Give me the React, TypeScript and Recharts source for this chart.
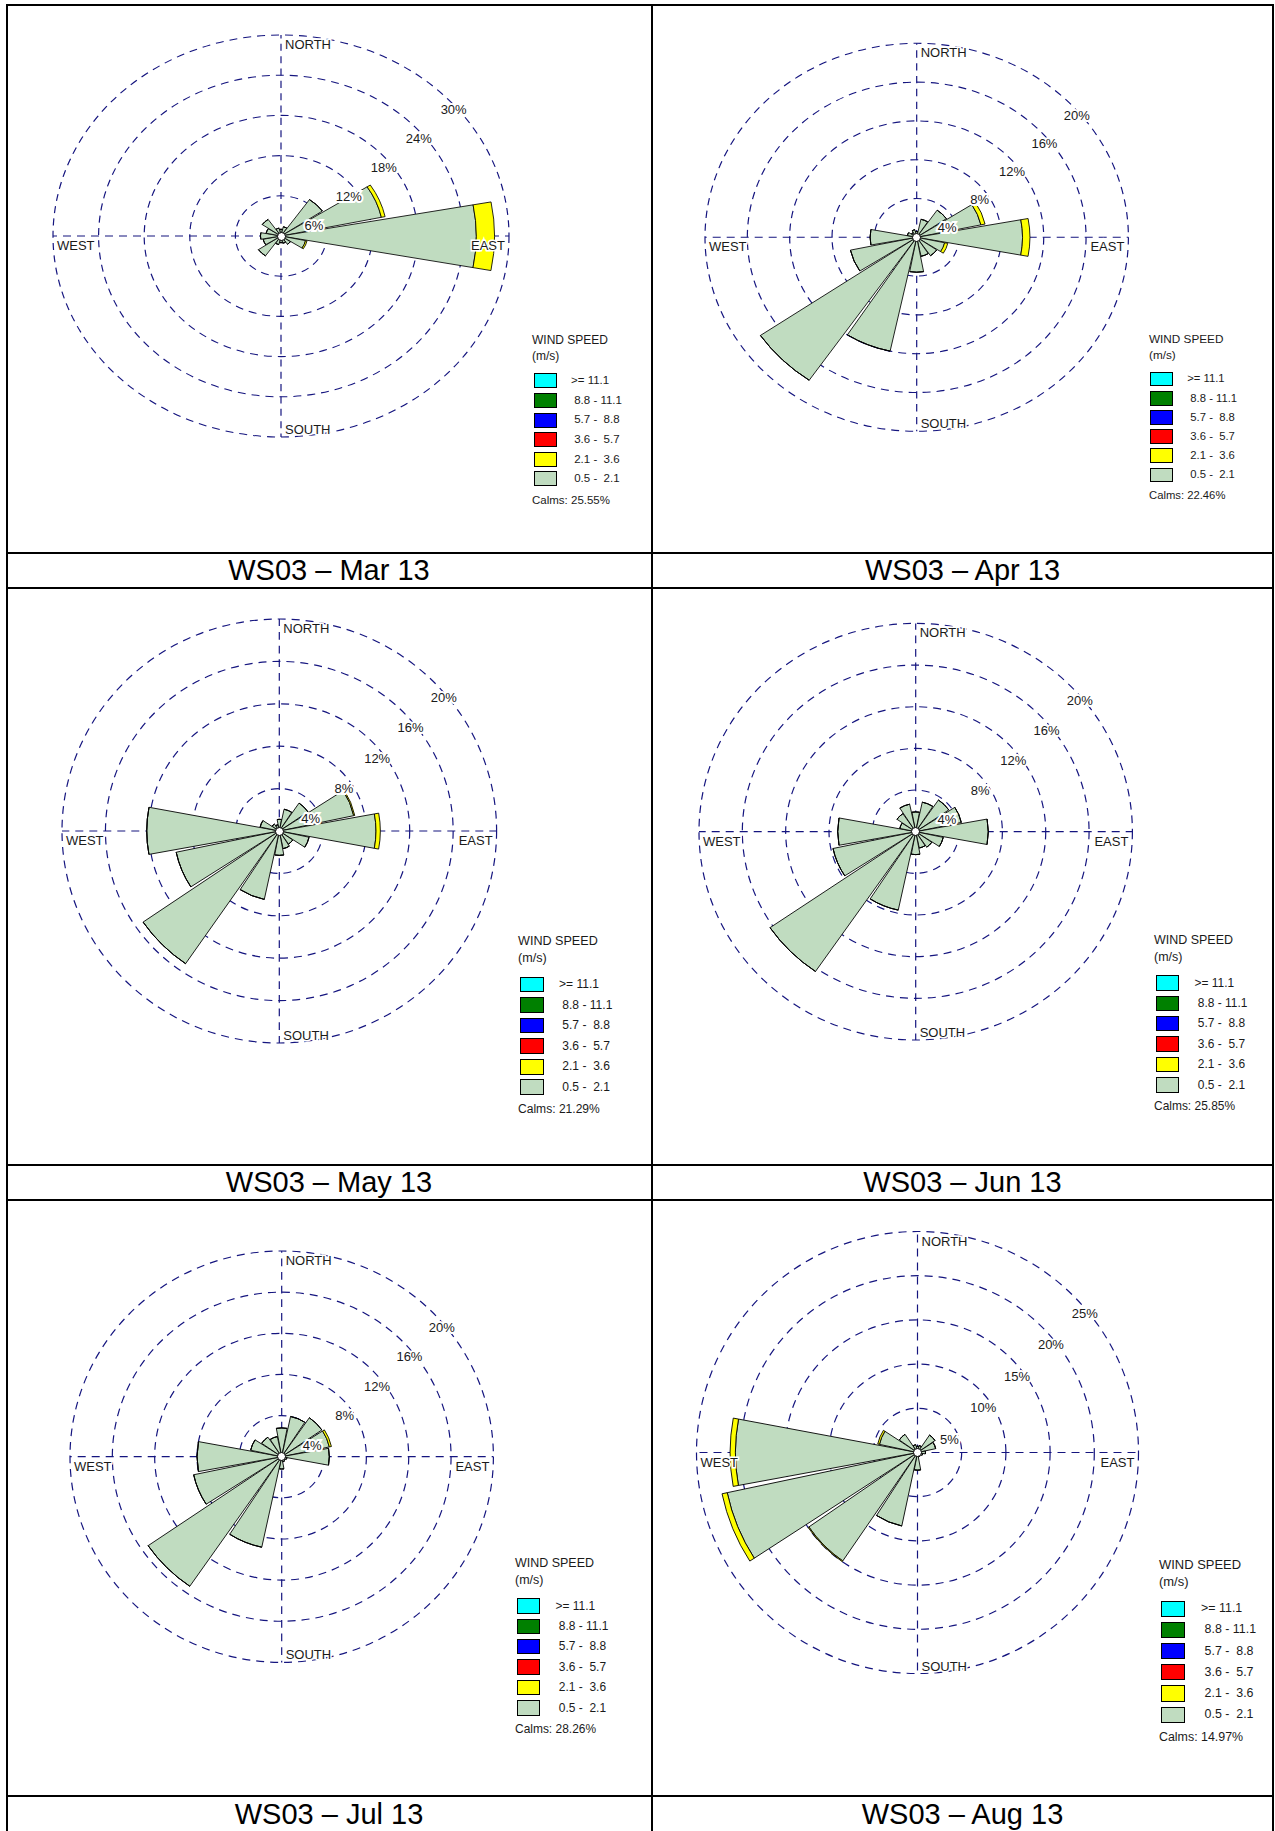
import React from "react";
import {
  RadialBarChart,
  RadialBar,
  PolarGrid,
  PolarAngleAxis,
  PolarRadiusAxis,
  Legend,
} from "recharts";

const FONT = "'Liberation Sans', Arial, Helvetica, sans-serif";

const directions = ["N", "NNE", "NE", "ENE", "E", "ESE", "SE", "SSE", "S", "SSW", "SW", "WSW", "W", "WNW", "NW", "NNW"];
const compassDirs = ["N", "E", "S", "W"];
const compassLabels = ["NORTH", "EAST", "SOUTH", "WEST"];

// frequency (%) per direction: 0.5 - 2.1 m/s (low) and 2.1 - 3.6 m/s (mid)
const marLow = [1.0, 1.4, 6.6, 13.5, 25.7, 3.3, 1.5, 1.1, 1.0, 1.3, 3.6, 2.4, 2.7, 2.0, 3.0, 1.2];
const marMid = [0, 0, 0, 0.5, 2.4, 0.2, 0, 0, 0, 0, 0, 0, 0, 0, 0, 0];
const aprLow = [0.6, 1.9, 3.4, 6.2, 10.0, 2.7, 2.3, 2.0, 3.6, 12.0, 17.9, 6.4, 4.4, 0.9, 0.6, 0.8];
const aprMid = [0, 0, 0, 0.4, 0.7, 0.3, 0, 0, 0, 0, 0, 0, 0, 0, 0, 0];
const mayLow = [1.1, 2.1, 3.2, 7.0, 8.9, 2.8, 1.5, 1.7, 2.3, 6.6, 15.2, 9.7, 12.2, 1.8, 0.8, 0.6];
const mayMid = [0, 0, 0, 0.1, 0.4, 0, 0, 0, 0, 0, 0, 0, 0, 0, 0, 0];
const junLow = [1.9, 2.9, 3.7, 4.3, 6.7, 2.6, 1.8, 1.6, 2.2, 7.7, 16.3, 7.8, 7.2, 1.5, 2.1, 2.7];
const junMid = [0, 0, 0, 0, 0, 0, 0, 0, 0, 0, 0, 0, 0, 0, 0, 0];
const julLow = [2.8, 4.0, 4.6, 4.6, 4.5, 0.5, 0.4, 0.5, 1.2, 9.0, 15.3, 8.5, 8.0, 3.0, 2.3, 2.0];
const julMid = [0, 0, 0, 0.2, 0, 0, 0, 0, 0, 0, 0, 0, 0, 0, 0, 0];
const augLow = [0.7, 0.8, 2.4, 2.1, 0.9, 0.6, 0.4, 0.5, 2.0, 8.5, 14.9, 22.0, 20.6, 4.4, 2.5, 0.9];
const augMid = [0, 0, 0, 0, 0, 0, 0, 0, 0, 0, 0.1, 0.6, 0.6, 0.2, 0, 0];

const marTicks = [6, 12, 18, 24, 30];
const midTicks = [4, 8, 12, 16, 20];
const augTicks = [5, 10, 15, 20, 25];

const calmValues = [25.55, 22.46, 21.29, 25.85, 28.26, 14.97];
const panelTitles = ["WS03 – Mar 13", "WS03 – Apr 13", "WS03 – May 13", "WS03 – Jun 13", "WS03 – Jul 13", "WS03 – Aug 13"];

const speedLabels = [">= 11.1", " 8.8 - 11.1", " 5.7 -  8.8", " 3.6 -  5.7", " 2.1 -  3.6", " 0.5 -  2.1"];
const speedColors = ["#00ffff", "#008000", "#0000ff", "#ff0000", "#ffff00", "#c0dcc0"];

const lowSeries = [marLow, aprLow, mayLow, junLow, julLow, augLow];
const midSeries = [marMid, aprMid, mayMid, junMid, julMid, augMid];
const tickSets = [marTicks, midTicks, midTicks, midTicks, midTicks, augTicks];

// page geometry (px) for each panel
const panels = [
  { id: "mar", left: 8, top: 6, w: 642, h: 546, cx: 281, cy: 236, rh: 228, rv: 201, lx: 532, ly: 332, ls: 1.0 },
  { id: "apr", left: 653, top: 6, w: 619, h: 546, cx: 916.7, cy: 237.3, rh: 211.7, rv: 194, lx: 1149, ly: 331, ls: 0.98 },
  { id: "may", left: 8, top: 589, w: 642, h: 575, cx: 279.3, cy: 831, rh: 217.3, rv: 212, lx: 518, ly: 933, ls: 1.05 },
  { id: "jun", left: 653, top: 589, w: 619, h: 575, cx: 915.7, cy: 831.7, rh: 216.7, rv: 208.3, lx: 1154, ly: 932, ls: 1.04 },
  { id: "jul", left: 8, top: 1200, w: 642, h: 595, cx: 281.7, cy: 1456.7, rh: 211.7, rv: 205.7, lx: 515, ly: 1555, ls: 1.04 },
  { id: "aug", left: 653, top: 1200, w: 619, h: 595, cx: 917.5, cy: 1452.5, rh: 221, rv: 221, lx: 1159, ly: 1556, ls: 1.08 },
];

const hLineYs = [5, 552.7, 588.3, 1165.1, 1199.5, 1795.7];
const vLineXs = [7, 651.7, 1273];
const titleRows = [
  { top: 553.7, height: 33.6 },
  { top: 1166.1, height: 32.4 },
  { top: 1796.7, height: 34 },
];

function SpeedLegend({ s, calm }: { s: number; calm: number }) {
  const rowH = 19.6 * s;
  return (
    <div style={{ fontFamily: FONT, color: "#1a1a1a", fontSize: 12 * s, lineHeight: `${16 * s}px`, textAlign: "left" }}>
      <div style={{ height: 16 * s }}>WIND SPEED</div>
      <div style={{ height: 16 * s }}>(m/s)</div>
      <div style={{ marginTop: 7.2 * s }}>
        {speedLabels.map((lab, i) => (
          <div key={lab} style={{ position: "relative", height: rowH }}>
            <div
              style={{
                position: "absolute",
                left: 1.5 * s,
                top: (rowH - 15 * s) / 2,
                width: 23 * s,
                height: 15 * s,
                background: speedColors[i],
                border: "1px solid #000",
                boxSizing: "border-box",
              }}
            />
            <div style={{ position: "absolute", left: 39 * s, top: 0, lineHeight: `${rowH}px`, fontSize: 11.5 * s, whiteSpace: "pre" }}>
              {lab}
            </div>
          </div>
        ))}
      </div>
      <div style={{ marginTop: 3.2 * s, height: 16 * s, fontSize: 11.5 * s }}>Calms: {calm.toFixed(2)}%</div>
    </div>
  );
}

function Rose({ p, lows, mids, ticks, calm }: any) {
  const cx = p.cx - p.left;
  const cy = p.cy - p.top;
  const k = p.rv / p.rh;
  const max = ticks[ticks.length - 1];
  const data = directions.map((dir, i) => ({ dir, low: lows[i], mid: mids[i] }));

  // the svg is squeezed vertically by k, so text is stretched back
  const svgY = (yd: number) => cy + (yd - cy) / k;
  const unsquash = (Y: number) => (k === 1 ? undefined : `translate(0 ${Y}) scale(1 ${1 / k}) translate(0 ${-Y})`);

  const dirTick = (props: any) => {
    const idx = compassDirs.indexOf(props.payload?.value);
    if (idx < 0) return <g />;
    const pos: any[] = [
      [cx + 4, cy - p.rv + 14, "start"],
      [cx + p.rh - 4, cy + 14, "end"],
      [cx + 4, cy + p.rv - 3, "start"],
      [cx - p.rh + 4, cy + 14, "start"],
    ][idx];
    const Y = svgY(pos[1]);
    return (
      <text
        x={pos[0]}
        y={Y}
        transform={unsquash(Y)}
        textAnchor={pos[2]}
        fontSize={13}
        fontFamily={FONT}
        fill="#1a1a1a"
        stroke="#fff"
        strokeWidth={3}
        paintOrder="stroke"
      >
        {compassLabels[idx]}
      </text>
    );
  };

  const pctTick = (props: any) => {
    const i = ticks.indexOf(props.payload?.value);
    if (i < 0) return <g />;
    const Y = props.y + (3 + 3 * (ticks.length - 1 - i)) / k;
    return (
      <text
        x={props.x - 2}
        y={Y}
        transform={unsquash(Y)}
        textAnchor="middle"
        dominantBaseline="central"
        fontSize={13}
        fontFamily={FONT}
        fill="#1a1a1a"
        stroke="#fff"
        strokeWidth={4}
        paintOrder="stroke"
      >
        {`${props.payload.value}%`}
      </text>
    );
  };

  return (
    <div style={{ position: "absolute", left: p.left, top: p.top, width: p.w, height: p.h }}>
      {k !== 1 && (
        <style>{`.rose-${p.id} .recharts-surface{transform:scaleY(${k});transform-origin:0px ${cy}px;}`}</style>
      )}
      <RadialBarChart
        className={`rose-${p.id}`}
        width={p.w}
        height={p.h}
        data={data}
        layout="centric"
        cx={cx}
        cy={cy}
        innerRadius={0}
        outerRadius={p.rh}
        startAngle={78.75}
        endAngle={-281.25}
        barCategoryGap="3%"
        margin={{ top: 0, right: 0, bottom: 0, left: 0 }}
      >
        <PolarGrid gridType="circle" polarAngles={[0, 90, 180, 270]} stroke="#15157f" strokeDasharray="8 6" strokeWidth={1.2} />
        <RadialBar dataKey="low" stackId="ws" fill="#c0dcc0" stroke="#000" strokeWidth={0.9} isAnimationActive={false} />
        <RadialBar dataKey="mid" stackId="ws" fill="#ffff00" stroke="#000" strokeWidth={0.9} isAnimationActive={false} />
        <PolarAngleAxis type="category" dataKey="dir" axisLine={false} tickLine={false} tick={dirTick} />
        <PolarRadiusAxis
          type="number"
          domain={[0, max]}
          ticks={ticks}
          angle={40}
          axisLine={false}
          tickLine={false}
          tick={pctTick}
          allowDataOverflow
        />
        <Legend
          layout="vertical"
          align="right"
          verticalAlign="top"
          content={() => <SpeedLegend s={p.ls} calm={calm} />}
          wrapperStyle={{ left: p.lx - p.left, top: p.ly - p.top, width: 150 * p.ls }}
        />
      </RadialBarChart>
      <div
        style={{
          position: "absolute",
          left: cx - 4.5,
          top: cy - 4.5,
          width: 9,
          height: 9,
          borderRadius: "50%",
          background: "#fff",
          border: "1px solid #000",
          boxSizing: "border-box",
        }}
      />
    </div>
  );
}

export default function App() {
  return (
    <div
      style={{
        position: "absolute",
        left: 0,
        top: 0,
        width: 1275,
        height: 1831,
        background: "#fff",
        fontFamily: FONT,
        overflow: "hidden",
      }}
    >
      {panels.map((p, i) => (
        <Rose key={p.id} p={p} lows={lowSeries[i]} mids={midSeries[i]} ticks={tickSets[i]} calm={calmValues[i]} />
      ))}

      {hLineYs.map((y) => (
        <div key={`h${y}`} style={{ position: "absolute", left: 6, top: y - 1, width: 1268, height: 2, background: "#000" }} />
      ))}
      {vLineXs.map((x) => (
        <div key={`v${x}`} style={{ position: "absolute", left: x - 1, top: 4, width: 2, height: 1827, background: "#000" }} />
      ))}

      {titleRows.map((r, row) =>
        [0, 1].map((col) => (
          <div
            key={`t${row}${col}`}
            style={{
              position: "absolute",
              left: col === 0 ? 8 : 653,
              width: col === 0 ? 642 : 619,
              top: r.top,
              height: r.height,
              lineHeight: `${r.height}px`,
              textAlign: "center",
              fontSize: 29,
              color: "#000",
              whiteSpace: "nowrap",
            }}
          >
            {panelTitles[row * 2 + col]}
          </div>
        ))
      )}
    </div>
  );
}
